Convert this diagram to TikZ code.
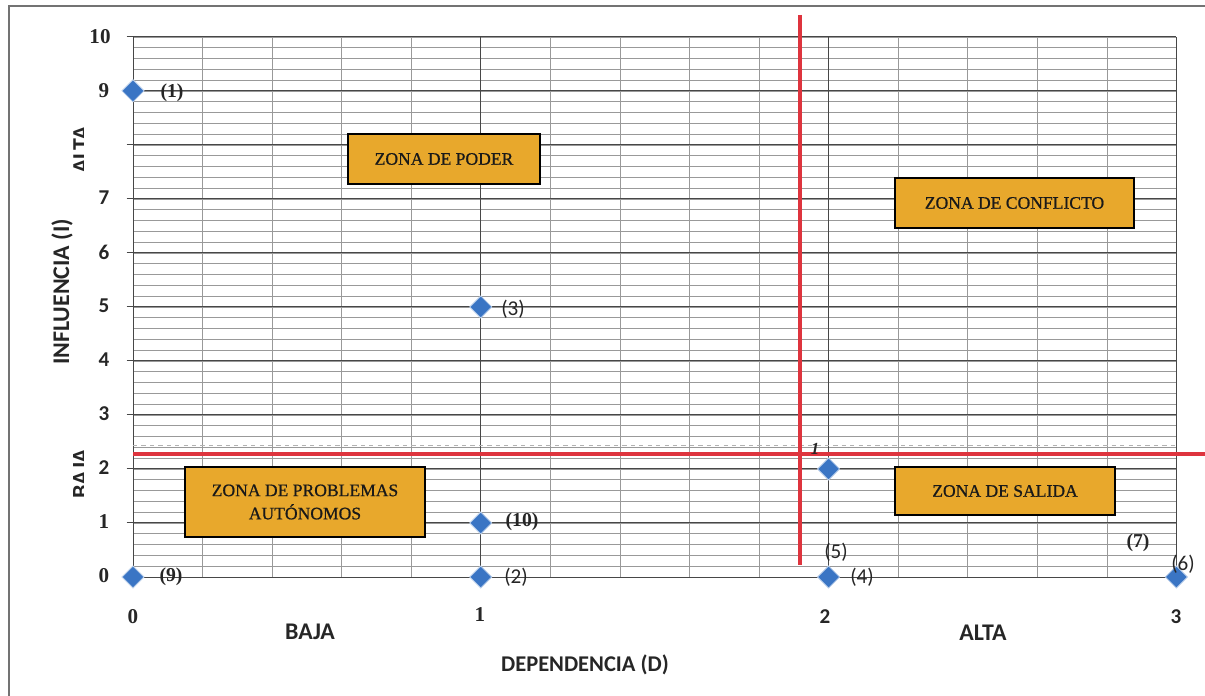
\documentclass[tikz,border=0pt]{standalone}
\usepackage{fontspec}
\setmainfont{Liberation Serif}
\newfontfamily\calib{Carlito}
\newfontfamily\zonefont[FakeBold=0.8]{Liberation Serif}
\usetikzlibrary{shapes.geometric}
\definecolor{zoneorange}{RGB}{232,168,44}
\definecolor{ptblue}{RGB}{58,117,196}
\definecolor{redline}{RGB}{222,52,62}
\tikzset{
 zone/.style={draw=black, line width=1.2pt, fill=zoneorange, font=\zonefont\fontsize{12.5}{16.5}\selectfont, text=black!90, align=center, inner sep=0pt},
 pt/.style={diamond, fill=ptblue, draw=ptblue!35, line width=0.6pt, minimum width=0.56cm, minimum height=0.56cm, inner sep=0pt},
 plab/.style={font=\calib\fontsize{15}{17}\selectfont, inner sep=0pt, text=black!85},
 plabs/.style={font=\bfseries\fontsize{14}{16}\selectfont, inner sep=0pt, text=black!85},
 tick/.style={font=\calib\bfseries\fontsize{15}{17}\selectfont, inner sep=0pt, text=black!85},
 ticks/.style={font=\bfseries\fontsize{15}{17}\selectfont, inner sep=0pt, text=black!85},
 axlab/.style={font=\calib\bfseries\fontsize{17}{19}\selectfont, inner sep=0pt, text=black!85},
 minorgrid/.style={draw=black!40, line width=0.45pt},
 majorgrid/.style={draw=black!72, line width=0.7pt},
 quadline/.style={draw=redline, line width=2.6pt},
 framed/.style={draw=black!55, line width=1.2pt},
}
\begin{document}
\begin{tikzpicture}[x=0.025cm, y=-0.025cm]
\useasboundingbox (0,0) rectangle (1205,696);
% outer frame (left and top only)
\draw[framed] (9,696) -- (9,6) -- (1205,6);
% data scope
\begin{scope}[shift={(133,577)}, x=8.6925cm, y=1.35cm]
  \foreach \j in {0,...,50} {\draw[minorgrid] (0,\j/5) -- (3,\j/5);}
  \foreach \i in {0,...,15} {\draw[minorgrid] (\i/5,0) -- (\i/5,10);}
  \foreach \j in {0,...,10} {\draw[majorgrid] (-0.018,\j) -- (3,\j);}
  \foreach \i in {0,1,2,3} {\draw[majorgrid] (\i,0) -- (\i,10);}
  \draw[draw=black!30, dashed, line width=0.5pt] (0,2.43) -- (3,2.43);
  % points
  \node[pt] (p1) at (0,9) {};
  \node[pt] (p3) at (1,5) {};
  \node[pt] (p10) at (1,1) {};
  \node[pt] (p2) at (1,0) {};
  \node[pt] (p9) at (0,0) {};
  \node[pt] (p8) at (2,2) {};
  \node[pt] (p4) at (2,0) {};
  \node[pt] (p6) at (3,0) {};
\end{scope}
% quadrant lines
\coordinate (vt) at (800,15);
\coordinate (vb) at (800,565);
\coordinate (hl) at (133,454);
\coordinate (hr) at (1205,454);
\draw[quadline] (hl) -- (hr);
\draw[quadline] (vt) -- (vb);
% zones
\node[zone, minimum width=4.8cm, minimum height=1.25cm] (zpoder) at (444,159) {ZONA DE PODER};
\node[zone, minimum width=5.975cm, minimum height=1.25cm] (zconf) at (1014.5,203) {ZONA DE CONFLICTO};
\node[zone, minimum width=5.5cm, minimum height=1.2cm] (zsal) at (1005,491) {ZONA DE SALIDA};
\node[zone, minimum width=6cm, minimum height=1.75cm] (zauto) at (305,502) {ZONA DE PROBLEMAS\\AUT\'ONOMOS};
% point labels
\node[plabs] (l1) at (172,93) {(1)};
\node[plab] (l3) at (513,309) {(3)};
\node[plabs] (l10) at (522,522) {(10)};
\node[plab] (l2) at (516,577) {(2)};
\node[plabs] (l9) at (171,577) {(9)};
\node[plabs, font=\bfseries\itshape\fontsize{12}{14}\selectfont] (l8) at (815,449) {1};
\node[plab] (l5) at (836,552) {(5)};
\node[plab] (l4) at (862,577) {(4)};
\node[plabs] (l7) at (1138,543) {(7)};
\node[plab] (l6) at (1183,564) {(6)};
% y tick labels
\node[ticks] (y10) at (100,37) {10};
\node[ticks] (y9) at (104,91) {9};
\node[tick] (y7) at (104,198) {7};
\node[tick] (y6) at (104,252) {6};
\node[tick] (y5) at (104,306) {5};
\node[tick] (y4) at (104,360) {4};
\node[tick] (y3) at (104,414) {3};
\node[tick] (y2) at (104,468) {2};
\node[ticks] (y1) at (104,522) {1};
\node[ticks] (y0) at (104,576) {0};
% x tick labels
\node[ticks] (x0) at (133,617) {0};
\node[ticks] (x1) at (480,615) {1};
\node[tick] (x2) at (825,617) {2};
\node[tick] (x3) at (1176,617) {3};
% axis labels
\node[axlab] (baja) at (310,632) {BAJA};
\node[axlab] (alta) at (983,633) {ALTA};
\node[axlab, font=\calib\bfseries\fontsize{16}{18}\selectfont] (dep) at (585,665) {DEPENDENCIA (D)};
\node[axlab, rotate=90] (infl) at (62,292) {INFLUENCIA (I)};
\begin{scope}
  \clip (60,100) rectangle (83,520);
  \node[axlab, rotate=90] (altay) at (81,150) {ALTA};
  \node[axlab, rotate=90] (bajay) at (81,474) {BAJA};
\end{scope}
\end{tikzpicture}
\end{document}
